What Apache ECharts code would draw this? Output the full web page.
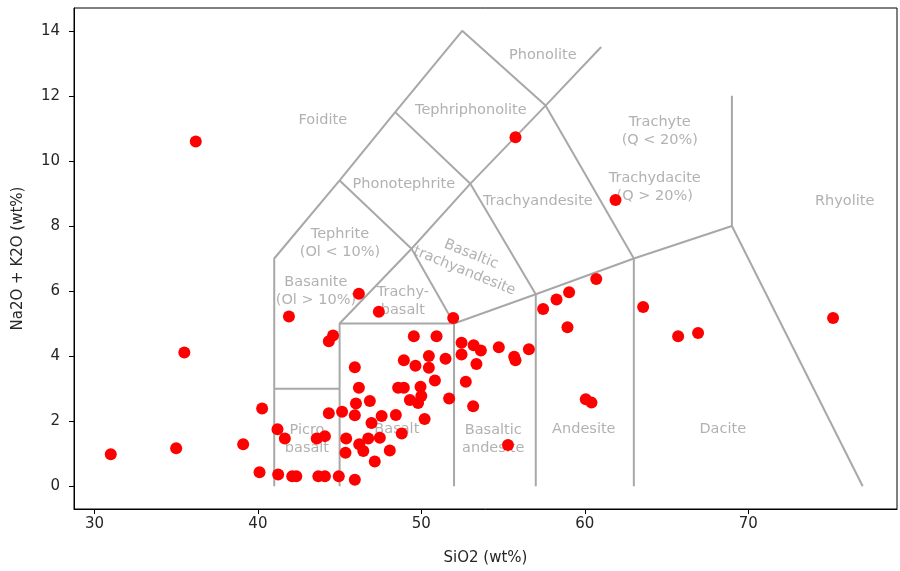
<!DOCTYPE html>
<html>
<head>
<meta charset="utf-8">
<script src="https://cdn.jsdelivr.net/npm/echarts@6/dist/echarts.min.js"></script>
<style>html,body{margin:0;padding:0;background:#fff;}#c{width:900px;height:571px;}</style>
</head>
<body>
<div id="c"></div>
<script>
// Sample compositions
const sio2 = [31.0,35.0,35.5,36.2,39.1,40.26,40.1,41.2,41.65,41.24,42.1,42.35,43.7,44.1,44.95,45.93,43.6,44.1,41.9,44.6,44.34,46.18,47.4,
  44.34,45.15,45.93,46.0,46.18,45.93,46.85,47.57,48.44,48.58,48.93,49.3,49.8,50.0,49.95,50.2,48.8,46.95,45.4,46.2,46.75,47.46,46.45,45.36,48.07,47.15,48.93,49.64,50.46,50.46,51.48,50.83,49.54,50.93,51.7,51.95,
  52.46,52.46,53.2,53.64,53.37,54.74,55.68,55.76,56.58,52.72,53.17,55.3,
  55.76,57.45,58.27,59.04,60.7,58.94,60.06,60.41,61.88,63.57,65.71,66.93,75.19];
const alkali = [0.98,1.17,4.11,10.6,1.29,2.39,0.43,1.75,1.47,0.36,0.31,0.31,0.31,0.31,0.31,0.2,1.47,1.54,5.22,4.63,4.46,5.92,5.36,
  2.24,2.29,2.18,2.54,3.03,3.66,2.62,2.16,2.19,3.03,3.03,2.65,2.56,2.77,3.06,2.07,1.62,1.94,1.47,1.29,1.47,1.49,1.08,1.03,1.1,0.76,3.87,3.7,4.0,3.64,3.92,3.25,4.61,4.61,2.7,5.17,
  4.41,4.05,4.33,4.17,3.76,4.27,3.98,3.87,4.21,3.21,2.46,1.27,
  10.73,5.45,5.74,5.96,6.37,4.89,2.67,2.57,8.8,5.51,4.61,4.71,5.17];

// TAS (total alkali-silica) field boundaries
const tasLines = [
  [[41,0],[41,7],[45,9.4],[48.4,11.5],[52.5,14],[57.6,11.7],[63,7],[63,0]],
  [[41,3],[45,3]],
  [[45,0],[45,5],[49.4,7.3],[53,9.3],[57.6,11.7],[61,13.5]],
  [[45,5],[52,5],[52,0]],
  [[52,5],[57,5.9],[63,7],[69,8],[69,12]],
  [[69,8],[77,0]],
  [[57,0],[57,5.9],[53,9.3],[48.4,11.5]],
  [[49.4,7.3],[52,5]],
  [[45,9.4],[49.4,7.3]]
];

// Field names and their anchor in data coordinates
const regionNames = ['Foidite','Phonolite','Tephriphonolite','Phonotephrite','Trachyandesite',
  'Tephrite\n(Ol < 10%)','Basanite\n(Ol > 10%)','Trachy-\nbasalt','Basaltic\ntrachyandesite',
  'Trachyte\n(Q < 20%)','Trachydacite\n(Q > 20%)','Rhyolite','Picro\nbasalt','Basalt',
  'Basaltic\nandesite','Andesite','Dacite'];
const regionX = [43.97,57.43,53.03,48.93,57.13,45.02,43.55,48.87,52.84,64.59,64.28,75.9,43.0,48.5,54.4,59.94,68.44];
const regionY = [11.26,13.25,11.56,9.29,8.77,7.48,6.0,5.68,6.87,10.92,9.2,8.77,1.44,1.75,1.44,1.75,1.75];
const regionRotate = [0,0,0,0,0,0,0,0,-22,0,0,0,0,0,0,0,0];

const xTicks = [30,40,50,60,70];
const yTicks = [0,2,4,6,8,10,12,14];

const FONT = 'DejaVu Sans';
const series = [];
tasLines.forEach((seg, i) => {
  series.push({
    type: 'line', data: seg, symbol: 'none', silent: true, z: 2,
    lineStyle: {color: '#a8a8a8', width: 2}, animation: false
  });
});
series.push({
  type: 'scatter', z: 3, silent: true, animation: false,
  symbolSize: 0,
  data: regionNames.map((n, i) => ({
    value: [regionX[i], regionY[i]],
    label: {show: true, position: 'inside', formatter: n, rotate: regionRotate[i],
      color: '#9e9e9e', fontSize: 14.5, fontFamily: FONT, lineHeight: 18, align: 'center', verticalAlign: 'middle'}
  }))
});
series.push({
  type: 'scatter', z: 5, animation: false,
  symbol: 'circle', symbolSize: 12,
  itemStyle: {color: '#ff0000', opacity: 1},
  data: sio2.map((v, i) => [v, alkali[i]])
});

const chart = echarts.init(document.getElementById('c'), null, {renderer: 'canvas'});
chart.setOption({
  animation: false,
  backgroundColor: '#ffffff',
  grid: {left: 74, right: 3, top: 8, bottom: 62, show: true, borderColor: '#000', borderWidth: 1, backgroundColor: 'transparent'},
  xAxis: {
    type: 'value', min: 28.75, max: 79.1,
    name: 'SiO2 (wt%)', nameLocation: 'middle', nameGap: 42,
    nameTextStyle: {fontFamily: FONT, fontSize: 15, color: '#262626'},
    axisLine: {show: true, onZero: false, lineStyle: {color: '#000', width: 1}},
    axisTick: {show: true, inside: false, length: 5, customValues: xTicks, lineStyle: {color: '#000'}},
    axisLabel: {customValues: xTicks, margin: 8, fontFamily: FONT, fontSize: 15, color: '#262626'},
    splitLine: {show: false}
  },
  yAxis: {
    type: 'value', min: -0.7, max: 14.7,
    name: 'Na2O + K2O (wt%)', nameLocation: 'middle', nameGap: 48, nameRotate: 90,
    nameTextStyle: {fontFamily: FONT, fontSize: 15, color: '#262626'},
    axisLine: {show: true, onZero: false, lineStyle: {color: '#000', width: 1}},
    axisTick: {show: true, inside: false, length: 5, customValues: yTicks, lineStyle: {color: '#000'}},
    axisLabel: {customValues: yTicks, margin: 14, fontFamily: FONT, fontSize: 15, color: '#262626'},
    splitLine: {show: false}
  },
  series: series
});
</script>
</body>
</html>
